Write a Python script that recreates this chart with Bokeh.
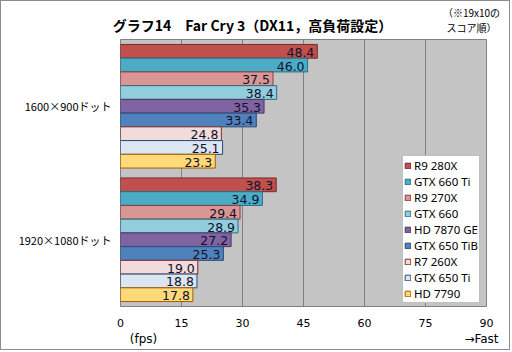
from bokeh.plotting import figure
from bokeh.models import (Range1d, Legend, LegendItem, ColumnDataSource,
                          FixedTicker, LinearAxis)
from bokeh.embed import file_html
from bokeh.resources import INLINE
from bokeh.core.properties import value

categories = ["1600×900ドット", "1920×1080ドット"]
series = ["R9 280X", "GTX 660 Ti", "R9 270X", "GTX 660", "HD 7870 GE",
          "GTX 650 TiB", "R7 260X", "GTX 650 Ti", "HD 7790"]
fps_1600 = [48.4, 46.0, 37.5, 38.4, 35.3, 33.4, 24.8, 25.1, 23.3]
fps_1920 = [38.3, 34.9, 29.4, 28.9, 27.2, 25.3, 19.0, 18.8, 17.8]
x_ticks = [0, 15, 30, 45, 60, 75, 90]

title_text = "グラフ14　Far Cry 3（DX11，高負荷設定）"
note_text = "（※19x10の\nスコア順）"
unit_text = "(fps)"
dir_text = "→Fast"

fill_colors = ["#C0504D", "#4BACC6", "#D99694", "#92CDDC", "#8064A2",
               "#4F81BD", "#F2DCDB", "#DCE6F2", "#FFD97A"]
line_colors = ["#7A2C2A", "#2B6F82", "#8E3B39", "#2B6F82", "#4B3766",
               "#2A4B73", "#7A2C2A", "#2A4B73", "#A85C00"]

# page-pixel layout of the plot frame
FX0, FX1, FY0, FY1 = 120, 486, 36, 306
def dx(px):
    return round((px - FX0) * 90 / (FX1 - FX0), 4)

p = figure(width=510, height=350, output_backend="svg", toolbar_location=None,
           x_range=Range1d(0, 90), y_range=Range1d(2, 0),
           min_border_left=FX0 - 1, min_border_right=511 - FX1,
           min_border_top=FY0 - 1, min_border_bottom=351 - FY1,
           background_fill_color="#C4C4C4", border_fill_color="white",
           styles={"border": "1px solid #8C8C8C"})
p.outline_line_color = "#808080"
p.outline_line_width = 1
p.ygrid.grid_line_color = None
p.xgrid.grid_line_color = "#7F7F7F"
p.xgrid.ticker = FixedTicker(ticks=x_ticks)

gap = 10 / 135
bar_h = (1 - gap) / len(series)

items = []
for j, name in enumerate(series):
    vals = [fps_1600[j], fps_1920[j]]
    ys = [g + gap / 2 + (j + 0.5) * bar_h for g in range(len(categories))]
    src = ColumnDataSource(dict(y=ys, v=vals, lbl=[f"{v:.1f}" for v in vals]))
    r = p.hbar(y="y", left=0, right="v", height=bar_h, source=src,
               fill_color=fill_colors[j], line_color=line_colors[j], line_width=1)
    p.text(x="v", y="y", text="lbl", source=src, text_align="right",
           text_baseline="middle", x_offset=-3, y_offset=1,
           text_font=value("DejaVu Sans"), text_font_size="12.5px",
           text_color="#10102A")
    items.append(LegendItem(label=name, renderers=[r]))

legend = Legend(items=items, location=(402 - FX0, FY1 - 303),
                label_text_font="Noto Sans", label_text_font_size="11.5px",
                label_height=16, glyph_height=7, glyph_width=7, spacing=0,
                padding=1, margin=0, label_standoff=3,
                border_line_color="#808080", border_line_width=1,
                background_fill_color="white", background_fill_alpha=1,
                label_text_color="black")
p.add_layout(legend)

def plain(axis):
    axis.axis_line_color = None
    axis.major_tick_line_color = None
    axis.minor_tick_line_color = None
    axis.major_tick_out = 0
    axis.major_tick_in = 0
    axis.major_label_text_color = "black"

# main axes
p.xaxis.ticker = FixedTicker(ticks=x_ticks)
plain(p.xaxis[0])
p.xaxis.major_label_standoff = 12
p.xaxis.major_label_text_font = "DejaVu Sans"
p.xaxis.major_label_text_font_size = "11px"

p.yaxis.ticker = FixedTicker(ticks=[0.5, 1.5])
p.yaxis.major_label_overrides = {0.5: categories[0], 1.5: categories[1]}
plain(p.yaxis[0])
p.yaxis.major_label_standoff = 9
p.yaxis.major_label_text_font = "Noto Sans CJK JP"
p.yaxis.major_label_text_font_size = "11px"

# second bottom row: unit and direction
t_unit, t_dir = dx(143), dx(481)
ax2 = LinearAxis(ticker=FixedTicker(ticks=[t_unit, t_dir]),
                 major_label_overrides={t_unit: unit_text, t_dir: dir_text})
plain(ax2)
ax2.major_label_standoff = 2
ax2.major_label_text_font = "DejaVu Sans"
ax2.major_label_text_font_size = "12px"
p.add_layout(ax2, "below")

# title row (top axis carrying the chart title)
t_title = dx(252)
ax_t = LinearAxis(ticker=FixedTicker(ticks=[t_title]),
                  major_label_overrides={t_title: title_text})
plain(ax_t)
ax_t.major_label_standoff = 5
ax_t.major_label_text_font = "Noto Sans CJK JP"
ax_t.major_label_text_font_style = "bold"
ax_t.major_label_text_font_size = "14px"
p.add_layout(ax_t, "above")

# note at the top right (second top axis, pulled down beside the title)
t_note = dx(471)
ax_n = LinearAxis(ticker=FixedTicker(ticks=[t_note]),
                  major_label_overrides={t_note: note_text})
plain(ax_n)
ax_n.major_label_standoff = -23
ax_n.major_label_text_font = "Noto Sans CJK JP"
ax_n.major_label_text_font_size = "10px"
ax_n.major_label_text_line_height = 1.0
p.add_layout(ax_n, "above")

open("out.html", "w").write(file_html(p, INLINE))
